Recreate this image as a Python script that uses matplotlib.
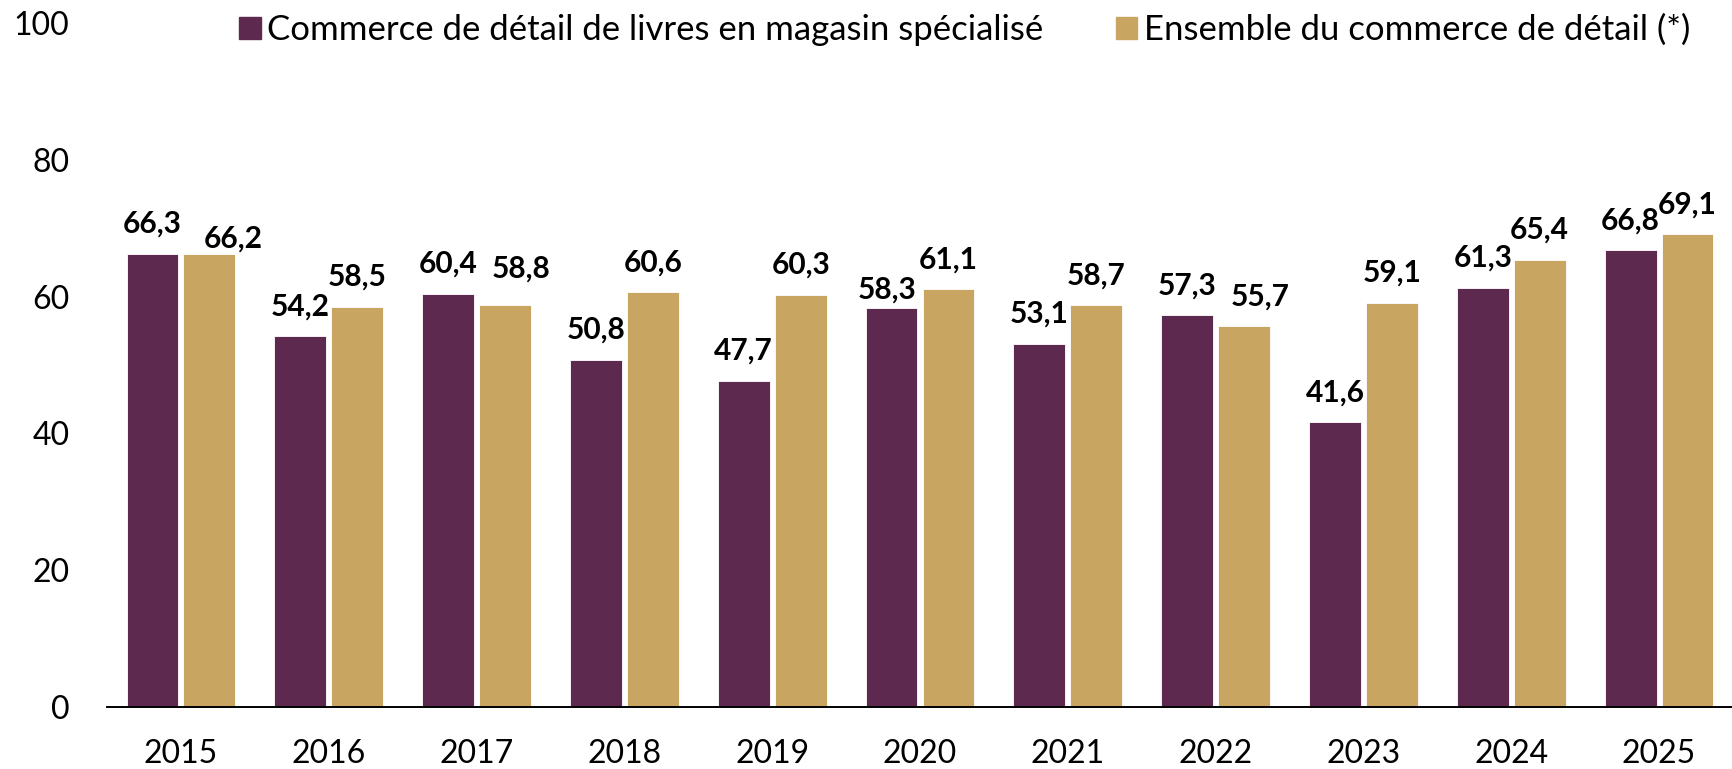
import matplotlib.pyplot as plt
from matplotlib.patches import Patch
import numpy as np

plt.rcParams['font.family'] = ['Lato', 'DejaVu Sans']

years = ['2015', '2016', '2017', '2018', '2019', '2020', '2021', '2022', '2023', '2024', '2025']
livres = [66.3, 54.2, 60.4, 50.8, 47.7, 58.3, 53.1, 57.3, 41.6, 61.3, 66.8]
ensemble = [66.2, 58.5, 58.8, 60.6, 60.3, 61.1, 58.7, 55.7, 59.1, 65.4, 69.1]
series_names = ['Commerce de détail de livres en magasin spécialisé',
                'Ensemble du commerce de détail (*)']
colors = ['#5E294F', '#C8A662']

# label nudges (points) where the original moved labels apart to avoid overlap
nudges = {(0, 1): (17, -10), (2, 1): (11.5, 4.5), (5, 0): (-3.5, -8), (7, 1): (11.5, 0)}

fig = plt.figure(figsize=(17.32, 7.69), dpi=100)
ax = fig.add_axes([107 / 1732, 62 / 769, 1626 / 1732, 684 / 769])

x = np.arange(len(years))
w = 0.351
gap = 0.034
off = (w + gap) / 2

for k, (vals, dx, col) in enumerate([(livres, -off, colors[0]), (ensemble, off, colors[1])]):
    bars = ax.bar(x + dx, vals, width=w, color=col, edgecolor='white', linewidth=0.6)
    for i, (b, v) in enumerate(zip(bars, vals)):
        nx, ny = nudges.get((i, k), (0, 0))
        ax.annotate(f"{v:.1f}".replace('.', ','),
                    (b.get_x() + b.get_width() / 2, v),
                    xytext=(nx, 15 + ny), textcoords='offset points',
                    ha='center', va='baseline', fontsize=21.5, fontweight='bold')

ax.set_xlim(-0.5, len(years) - 0.5)
ax.set_ylim(0, 100)
ax.set_yticks(range(0, 101, 20))
ax.set_xticks(x)
ax.set_xticklabels(years)
ax.tick_params(axis='both', length=0, labelsize=23)
ax.tick_params(axis='y', pad=27)
ax.tick_params(axis='x', pad=23)

for s in ['top', 'right', 'left']:
    ax.spines[s].set_visible(False)
ax.spines['bottom'].set_linewidth(1.4)
ax.spines['bottom'].set_color('black')

handles = [Patch(color=c) for c in colors]
fig.legend(handles, series_names, loc='center', bbox_to_anchor=(0.557, 0.961),
           ncol=2, frameon=False, fontsize=25, handlelength=0.63, handleheight=0.63,
           handletextpad=0.2, columnspacing=2.07, borderpad=0, borderaxespad=0)

fig.savefig('out.png', dpi=100)
